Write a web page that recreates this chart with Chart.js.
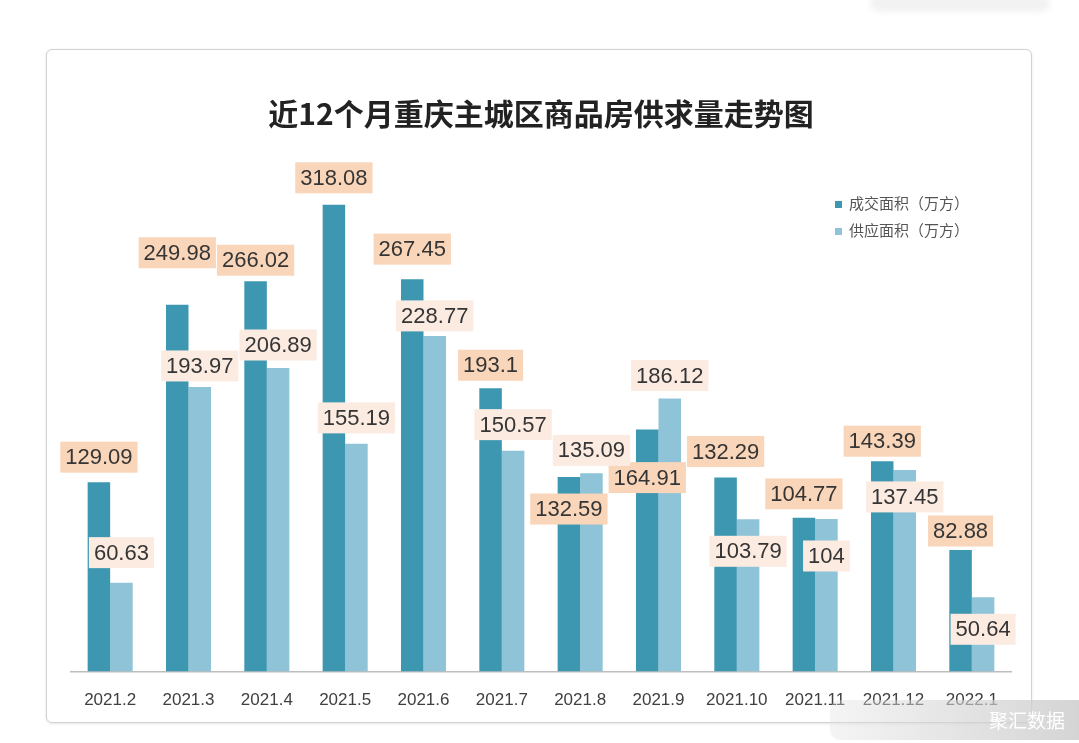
<!DOCTYPE html>
<html>
<head>
<meta charset="utf-8">
<script src="https://cdn.jsdelivr.net/npm/chart.js@4"></script>
<style>
  html, body { margin: 0; padding: 0; background: #ffffff; width: 1079px; height: 743px; overflow: hidden; }
  #topblob { position: absolute; left: 870px; top: -6px; width: 180px; height: 18px; background: #f2f2f2; border-radius: 10px; filter: blur(3px); }
  #card { position: absolute; left: 46px; top: 49px; width: 984px; height: 672px; border: 1.5px solid #d2d2d2; border-radius: 6px; box-shadow: 0 1px 3px rgba(0,0,0,0.10); background: #fff; }
  #c { position: absolute; left: 0; top: 0; }
  #wm { position: absolute; left: 830px; top: 700px; width: 249px; height: 40px; border-radius: 10px 0 0 10px;
        background: linear-gradient(to right, rgba(225,225,225,0.35), rgba(205,205,205,0.85));
        color: #fff; font-family: "Noto Sans CJK SC", sans-serif; font-size: 19px; line-height: 40px; text-align: right; padding-right: 14px; box-sizing: border-box; }
</style>
</head>
<body>
<div id="topblob"></div>
<div id="card"></div>
<canvas id="c" width="1079" height="743"></canvas>
<div id="wm">聚汇数据</div>
<script>
const chartTitle = '近12个月重庆主城区商品房供求量走势图';
const categories = ['2021.2', '2021.3', '2021.4', '2021.5', '2021.6', '2021.7', '2021.8', '2021.9', '2021.10', '2021.11', '2021.12', '2022.1'];
const seriesNames = ['成交面积（万方）', '供应面积（万方）'];
const dealArea = [129.09, 249.98, 266.02, 318.08, 267.45, 193.1, 132.59, 164.91, 132.29, 104.77, 143.39, 82.88];
const supplyArea = [60.63, 193.97, 206.89, 155.19, 228.77, 150.57, 135.09, 186.12, 103.79, 104, 137.45, 50.64];

const barColors = ['#3d97b1', '#8fc3d7'];
const labelBg = ['#f9d5b9', '#fcebe1'];
// vertical offset of each value label's centre from the top of its bar (px)
const labelOffsets = [
  [-25, -52, -21, -27, -30, -23, 32, 48, -26, -24, -20, -19],
  [-30, -21, -23, -26, -20, -26, -23, -23, 32, 37, 27, 32]
];

const valueLabels = {
  id: 'valueLabels',
  afterDatasetsDraw(chart) {
    const ctx = chart.ctx;
    ctx.save();
    ctx.font = '22px "Liberation Sans", Arial, sans-serif';
    ctx.textAlign = 'center';
    ctx.textBaseline = 'middle';
    chart.data.datasets.forEach((ds, i) => {
      const meta = chart.getDatasetMeta(i);
      meta.data.forEach((el, j) => {
        const txt = String(ds.data[j]);
        const w = ctx.measureText(txt).width + 10;
        const h = 31;
        const cx = el.x;
        const cy = el.y + labelOffsets[i][j];
        ctx.fillStyle = labelBg[i];
        ctx.fillRect(cx - w / 2, cy - h / 2, w, h);
        ctx.fillStyle = '#353535';
        ctx.fillText(txt, cx, cy + 1);
      });
    });
    ctx.restore();
  }
};

const cornerLegend = {
  id: 'cornerLegend',
  afterDraw(chart) {
    const ctx = chart.ctx;
    ctx.save();
    ctx.font = '15px "Noto Sans CJK SC", sans-serif';
    ctx.textBaseline = 'middle';
    ctx.textAlign = 'left';
    chart.data.datasets.forEach((ds, k) => {
      const y = 203 + k * 27;
      ctx.fillStyle = ds.backgroundColor;
      ctx.fillRect(835, y - 2, 7, 7);
      ctx.fillStyle = '#555';
      ctx.fillText(ds.label, 849, y);
    });
    ctx.restore();
  }
};

new Chart(document.getElementById('c'), {
  type: 'bar',
  data: {
    labels: categories,
    datasets: [
      { label: seriesNames[0], data: dealArea, backgroundColor: barColors[0] },
      { label: seriesNames[1], data: supplyArea, backgroundColor: barColors[1] }
    ]
  },
  options: {
    responsive: false,
    animation: false,
    datasets: { bar: { barPercentage: 1, categoryPercentage: 0.575 } },
    layout: { padding: { left: 71, right: 68, top: 0, bottom: 13 } },
    plugins: {
      legend: { display: false },
      tooltip: { enabled: false },
      title: {
        display: true,
        text: chartTitle,
        color: '#222',
        font: { family: '"Noto Sans CJK SC", sans-serif', size: 30, weight: 'bold' },
        padding: { top: 96, bottom: 26 }
      }
    },
    scales: {
      x: {
        grid: { display: false, drawTicks: false },
        border: { display: true, color: '#bdbdbd', width: 1.5 },
        ticks: {
          color: '#404040',
          font: { family: '"Liberation Sans", Arial, sans-serif', size: 17 },
          padding: 19,
          maxRotation: 0,
          autoSkip: false
        }
      },
      y: { display: false, min: 0, max: 350 }
    }
  },
  plugins: [valueLabels, cornerLegend]
});
</script>
</body>
</html>
